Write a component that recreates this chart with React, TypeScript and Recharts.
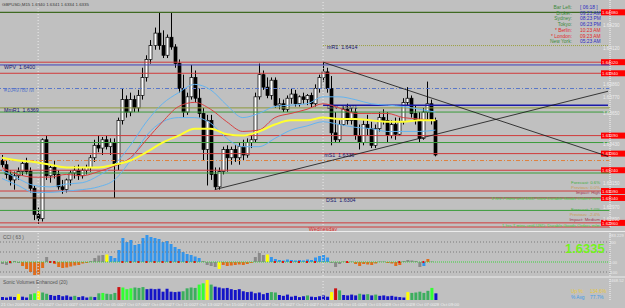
import React from "react";
import { ComposedChart, Bar, Line, XAxis, YAxis, ReferenceLine, Cell } from "recharts";

const W = 625;
const H = 308;
const BG = "#c0c0c0";
const FONT = "'Liberation Sans', Arial, sans-serif";

// one slot per bar, the right part of the chart is empty future space
const SLOT_COUNT = 152;
const MA_STEP = 4;

// [open, high, low, close]
const candles: [number, number, number, number][] = [
  [1.6331, 1.6335, 1.6326, 1.6328],
  [1.6328, 1.6331, 1.6318, 1.6321],
  [1.6321, 1.6324, 1.6313, 1.6317],
  [1.6317, 1.6323, 1.631, 1.632],
  [1.632, 1.6326, 1.6317, 1.6323],
  [1.6323, 1.6331, 1.632, 1.6329],
  [1.6329, 1.6333, 1.6321, 1.6323],
  [1.6323, 1.6326, 1.6308, 1.6311],
  [1.6311, 1.6313, 1.6288, 1.6292],
  [1.6292, 1.6297, 1.6285, 1.6289],
  [1.6289, 1.6347, 1.6287, 1.6346],
  [1.6346, 1.6349, 1.6317, 1.632],
  [1.632, 1.6328, 1.6315, 1.6326],
  [1.6326, 1.6331, 1.6318, 1.6321],
  [1.6321, 1.6324, 1.631, 1.6312],
  [1.6312, 1.6317, 1.6307, 1.631],
  [1.631, 1.6318, 1.6308, 1.6317],
  [1.6317, 1.6324, 1.6313, 1.6322],
  [1.6322, 1.6327, 1.6318, 1.6324],
  [1.6324, 1.6328, 1.6317, 1.632],
  [1.632, 1.6326, 1.6318, 1.6324],
  [1.6324, 1.6328, 1.6321, 1.6326],
  [1.6326, 1.6335, 1.6323, 1.6333],
  [1.6333, 1.6346, 1.633, 1.6342],
  [1.6342, 1.6349, 1.6337, 1.634],
  [1.634, 1.6348, 1.6335, 1.6346],
  [1.6346, 1.6349, 1.6339, 1.6341],
  [1.6341, 1.6347, 1.6335, 1.6344],
  [1.6344, 1.6347, 1.6304, 1.6328],
  [1.6328, 1.6362, 1.6324, 1.636],
  [1.636, 1.6383, 1.6357, 1.6375],
  [1.6375, 1.6378, 1.6362, 1.6366],
  [1.6366, 1.638, 1.6363, 1.6375],
  [1.6375, 1.6378, 1.6366, 1.6369],
  [1.6369, 1.6382, 1.6366, 1.6378],
  [1.6378, 1.6398, 1.6375, 1.6391],
  [1.6391, 1.6407, 1.6388, 1.6404],
  [1.6404, 1.6418, 1.6401, 1.6414],
  [1.6414, 1.6427, 1.6411, 1.6423],
  [1.6423, 1.6438, 1.6411, 1.6414],
  [1.6414, 1.6425, 1.6405, 1.6407],
  [1.6407, 1.6422, 1.6405, 1.642],
  [1.642, 1.6438, 1.6411, 1.6413],
  [1.6413, 1.6415, 1.6398, 1.6401],
  [1.6401, 1.6404, 1.638, 1.6383],
  [1.6383, 1.6393, 1.6362, 1.6366],
  [1.6366, 1.638, 1.6364, 1.6377],
  [1.6377, 1.64, 1.6375, 1.6391],
  [1.6391, 1.6396, 1.6373, 1.6376],
  [1.6376, 1.6383, 1.6362, 1.6365],
  [1.6365, 1.6369, 1.6331, 1.6339],
  [1.6339, 1.6364, 1.6313, 1.636],
  [1.636, 1.6364, 1.6317, 1.6321],
  [1.6321, 1.6326, 1.631, 1.6312],
  [1.6312, 1.6326, 1.631, 1.6323],
  [1.6323, 1.6341, 1.6321, 1.6339],
  [1.6339, 1.6342, 1.6323, 1.6333],
  [1.6333, 1.6341, 1.6328, 1.6339],
  [1.6339, 1.6342, 1.633, 1.6333],
  [1.6333, 1.6344, 1.6328, 1.6341],
  [1.6341, 1.6346, 1.6331, 1.6335],
  [1.6335, 1.6347, 1.6333, 1.6344],
  [1.6344, 1.6349, 1.634, 1.6346],
  [1.6346, 1.638, 1.6344, 1.6377],
  [1.6377, 1.6401, 1.6375, 1.6393],
  [1.6393, 1.6396, 1.6382, 1.6384],
  [1.6384, 1.6391, 1.6376, 1.6378],
  [1.6378, 1.6391, 1.6375, 1.6389],
  [1.6389, 1.6391, 1.6369, 1.6371],
  [1.6371, 1.6376, 1.6368, 1.6372],
  [1.6372, 1.6375, 1.6366, 1.6368],
  [1.6368, 1.6378, 1.6366, 1.6376],
  [1.6376, 1.6383, 1.6372, 1.6379],
  [1.6379, 1.6382, 1.637, 1.6372],
  [1.6372, 1.6378, 1.637, 1.6377],
  [1.6377, 1.638, 1.6372, 1.6375],
  [1.6375, 1.6379, 1.6371, 1.6378],
  [1.6378, 1.638, 1.6369, 1.6372],
  [1.6372, 1.6386, 1.637, 1.6383],
  [1.6383, 1.6393, 1.638, 1.6391],
  [1.6391, 1.6402, 1.6388, 1.6395],
  [1.6395, 1.6398, 1.638, 1.6383],
  [1.6383, 1.6392, 1.6342, 1.6351],
  [1.6351, 1.6366, 1.6344, 1.6346],
  [1.6346, 1.636, 1.6344, 1.6357],
  [1.6357, 1.637, 1.6356, 1.6368],
  [1.6368, 1.6372, 1.6357, 1.636],
  [1.636, 1.6369, 1.6357, 1.6366],
  [1.6366, 1.6369, 1.6346, 1.6349],
  [1.6349, 1.6357, 1.6339, 1.6344],
  [1.6344, 1.636, 1.6342, 1.6357],
  [1.6357, 1.6364, 1.6349, 1.6354],
  [1.6354, 1.6359, 1.634, 1.6342],
  [1.6342, 1.6357, 1.634, 1.6354],
  [1.6354, 1.6366, 1.6352, 1.6362],
  [1.6362, 1.6368, 1.6357, 1.636],
  [1.636, 1.6366, 1.6344, 1.6349],
  [1.6349, 1.636, 1.6347, 1.6357],
  [1.6357, 1.6362, 1.6346, 1.635],
  [1.635, 1.6362, 1.6349, 1.6359],
  [1.6359, 1.6376, 1.6357, 1.6373],
  [1.6373, 1.6384, 1.6371, 1.6376],
  [1.6376, 1.6378, 1.6362, 1.6365],
  [1.6365, 1.6371, 1.6357, 1.636],
  [1.636, 1.6366, 1.6344, 1.6347],
  [1.6347, 1.6369, 1.6346, 1.6366],
  [1.6366, 1.6388, 1.636, 1.6372],
  [1.6372, 1.6375, 1.6357, 1.636],
  [1.636, 1.6362, 1.6334, 1.6335],
];

// moving averages, one value every MA_STEP bars
const maYellow = [1.6333, 1.6331, 1.633, 1.6328, 1.6326, 1.6326, 1.6326, 1.6328, 1.6331, 1.6337, 1.6344, 1.6349, 1.6354, 1.6354, 1.635, 1.6349, 1.6352, 1.6357, 1.636, 1.636, 1.6362, 1.6361, 1.6361, 1.636, 1.6359, 1.6359, 1.636, 1.636];
const maRed = [1.6326, 1.6321, 1.6319, 1.6319, 1.6321, 1.632, 1.6323, 1.6327, 1.6333, 1.6346, 1.6359, 1.637, 1.6373, 1.6368, 1.6359, 1.6352, 1.6353, 1.6362, 1.6365, 1.6368, 1.6372, 1.6369, 1.6365, 1.6365, 1.6365, 1.6362, 1.6361, 1.636];
const maBlueA = [1.6324, 1.6318, 1.6313, 1.6312, 1.6314, 1.6315, 1.632, 1.6328, 1.6342, 1.6359, 1.6372, 1.638, 1.6386, 1.6382, 1.6371, 1.6362, 1.6365, 1.637, 1.6371, 1.6372, 1.6377, 1.6377, 1.6375, 1.6372, 1.6371, 1.637, 1.6368, 1.6366];
const maBlueB = [1.6318, 1.6313, 1.6308, 1.6308, 1.6309, 1.631, 1.6312, 1.6317, 1.6331, 1.6349, 1.6359, 1.6362, 1.6362, 1.6358, 1.6347, 1.6341, 1.6341, 1.6347, 1.6353, 1.6356, 1.6359, 1.6357, 1.6355, 1.6354, 1.6352, 1.6352, 1.6352, 1.6353];

const PRICE_MIN = 1.62823;
const PRICE_MAX = 1.64469;
const priceTicks = [1.6429, 1.6412, 1.6386, 1.6377, 1.6365, 1.6343, 1.6315, 1.6297, 1.6289];

const redLevels = [1.6402, 1.6394, 1.6349, 1.6336, 1.6324, 1.6309, 1.6286, 1.6283];
const greenLevels = [1.6366, 1.6344, 1.6322, 1.6295];
const topLevel = 1.6438;
const WPV = 1.64;
const MmR1 = 1.6369;
const mR1 = 1.6414;
const DPV = 1.6371;
const mS1 = 1.6336;
const DS1 = 1.6304;
const blueDashLevel = 1.6383;
const orangeDashLevel = 1.6331;

const daySeparators = [9, 80];
const trendUp = [{ x: 53, y: 1.631 }, { x: 151, y: 1.6381 }];
const trendDown = [{ x: 80, y: 1.6402 }, { x: 151, y: 1.6334 }];

const cci = [-20, -30, -15, 10, -10, -40, -70, -100, -130, -125, -60, 50, 5, -20, -50, -60, -55, -45, -35, -30, -15, -10, 10, 40, 65, 70, 75, 60, 40, 120, 240, 200, 220, 170, 180, 240, 270, 250, 240, 230, 200, 210, 180, 150, 130, 100, 80, 70, 55, 40, 10, -30, -40, -50, -70, -30, -40, -35, -30, -25, -30, -20, -10, 50, 90, 70, 75, 50, 30, 20, 15, 25, 20, 15, 20, 15, 25, 20, 45, 60, 70, 45, -10, -50, -20, 5, -10, 5, -20, -40, -20, -25, -30, -15, 5, 5, -10, -15, -40, -30, 10, 20, 15, 10, -50, -40, 30, 5, -110];
// trend state of each CCI bar: b up, o down, g neutral, y turning
const cciState = "gggggooooooggoooooooooggggybbbbbbbbbbbbbbbbbbbbbbbggggyoooooooogggybbbbbbbbbbbbbbbggggogooooooggoooogggggbog";
const cciSignals = [2, 12, 13, 30, 32, 34, 36, 38, 40, 42, 44, 46, 48, 68, 70, 72, 74, 76, 78, 86, 99, 105];

const volume = [360, 300, 400, 350, 720, 400, 300, 700, 800, 1050, 900, 750, 600, 500, 600, 450, 550, 400, 500, 350, 450, 300, 400, 350, 800, 850, 750, 700, 850, 1550, 1500, 1300, 1400, 1500, 1450, 1550, 1300, 1350, 1300, 1350, 1000, 1350, 1000, 950, 1000, 1050, 1400, 1500, 1450, 1850, 2000, 2400, 1850, 1600, 1500, 1400, 1450, 1300, 1200, 1300, 1050, 950, 1000, 800, 900, 700, 850, 950, 900, 600, 500, 650, 400, 500, 350, 450, 550, 400, 350, 450, 550, 400, 950, 1400, 1150, 600, 550, 650, 550, 750, 650, 700, 550, 650, 500, 550, 450, 500, 400, 350, 300, 950, 850, 900, 1000, 850, 1100, 1450, 800];
// b blue, g green, l lime, y yellow, r red
const volumeState = "bbbbybbglyggbbbbbbgbbbgbglgggrlllgggbbbbbbbbbgggglly" + "g" + "bbbbbbbbbbbbbb" + "gg" + "bbbbbbb" + "g" + "bbbbb" + "yrg" + "bbbb" + "gbgbg" + "bbbbbbb" + "y" + "ggggg" + "lb";

const timeTickSlots = [0, 6, 12, 18, 24, 30, 36, 42, 48, 54, 60, 66, 72, 78, 84, 90, 96, 102, 108];
const timeLabels = ["21 Oct 2009", "26 Oct 23:00", "27 Oct 01:00", "27 Oct 03:00", "27 Oct 05:00", "27 Oct 07:00", "27 Oct 09:00", "27 Oct 11:00", "27 Oct 13:00", "27 Oct 15:00", "27 Oct 17:00", "27 Oct 19:00", "27 Oct 21:00", "27 Oct 23:00", "28 Oct 01:00", "28 Oct 03:00", "28 Oct 05:00", "28 Oct 07:00", "28 Oct 09:00"];

const cciTicks = [270, 200, 0, -100];
const cciTickLabels: Record<string, string> = { 270: "283.229", 200: "200", 0: "0.00", "-100": "-100" };

const clockLabels = ["Bar Left:", "Broker:", "Sydney:", "Tokyo:", "* Berlin:", "* London:", "New York:"];
const clockTimes = ["[ 06:18 ]", "09:23 AM", "08:23 PM", "06:23 PM", "10:23 AM", "09:23 AM", "05:23 AM"];
const newsHigh = ["Forecast: 0.6%", "Previous: 0.0%", "Impact: High", "1 hrs 7 mins until USD: Core Durable Goods Orders m/m"];
const newsMedium = ["Forecast: 1.0%", "Previous: -2.4%", "Impact: Medium", "1 hrs 7 mins until USD: Durable Goods Orders m/m"];

const cciColors: Record<string, string> = { b: "#3395ec", o: "#e06c1c", g: "#8a8a8a", y: "#ffff00" };
const volColors: Record<string, string> = { b: "#1414c8", g: "#3cae5e", l: "#33ff33", y: "#ffff00", r: "#cc1111" };
const newsColors = ["#3cae3c", "#c89a50", "#a03850", "#44d044"];

const rows = Array.from({ length: SLOT_COUNT }, (_, i) => {
  const k = candles[i];
  const m = i % MA_STEP === 0 ? i / MA_STEP : -1;
  const ma = (arr: number[]) => (m >= 0 && m < arr.length ? arr[m] : null);
  return {
    slot: i,
    range: k ? [k[2], k[1]] : null,
    o: k ? k[0] : null,
    h: k ? k[1] : null,
    l: k ? k[2] : null,
    c: k ? k[3] : null,
    yellow: ma(maYellow),
    red: ma(maRed),
    blueA: ma(maBlueA),
    blueB: ma(maBlueB),
    cci: i < cci.length ? cci[i] : null,
    cciSt: cciState[i],
    sig: cciSignals.includes(i) ? 0 : null,
    vol: i < volume.length ? volume[i] : null,
    volSt: volumeState[i],
  };
});

function Candle(props: any) {
  const { x, y, width, height, payload } = props;
  if (!payload || payload.h == null || y == null) return null;
  const { o, h, l, c } = payload;
  const top = Math.min(y, y + height);
  const hh = Math.abs(height);
  const k = hh / (h - l);
  const cx = Math.round(x + width / 2) + 0.5;
  const bTop = top + (h - Math.max(o, c)) * k;
  const bBot = top + (h - Math.min(o, c)) * k;
  const up = c >= o;
  return (
    <g>
      <line x1={cx} x2={cx} y1={top} y2={top + hh} stroke="#000" strokeWidth={1} />
      <rect x={cx - 1.5} y={bTop} width={3} height={Math.max(bBot - bTop, 1)} fill={up ? "#fff" : "#000"} stroke="#000" strokeWidth={0.7} />
    </g>
  );
}

function Tag(props: any) {
  const { viewBox, text, frac = 0, color = "#15156e", box, price } = props;
  if (!viewBox) return null;
  const { x, y, width } = viewBox;
  return (
    <g>
      {text ? (
        <text x={x + frac * width + 4} y={y + 3.8} fontSize={5.3} fill={color} fontFamily={FONT}>
          {text}
        </text>
      ) : null}
      {box ? (
        <g>
          <rect x={x + width - 9} y={y - 3} width={24} height={6} fill="#ff0000" />
          <text x={x + width - 8} y={y + 1.8} fontSize={4.4} fill="#ffe4e4" fontFamily={FONT}>
            {price.toFixed(5)}
          </text>
        </g>
      ) : null}
    </g>
  );
}

function DayTag(props: any) {
  const { viewBox, text } = props;
  if (!viewBox || !text) return null;
  return (
    <text x={viewBox.x} y={viewBox.y + viewBox.height + 2.6} fontSize={5.4} fill="#e02424" textAnchor="middle" fontFamily={FONT}>
      {text}
    </text>
  );
}

function PriceTick(props: any) {
  const { x, y, payload } = props;
  return (
    <text x={x - 7} y={y + 1.8} fontSize={4.6} fill="#ececec" fontFamily={FONT}>
      {Number(payload.value).toFixed(5)}
    </text>
  );
}

function SideTick(props: any) {
  const { x, y, payload, labels } = props;
  return (
    <text x={x - 1} y={y + 1.8} fontSize={4.1} fill="#ececec" fontFamily={FONT}>
      {labels[payload.value] ?? String(payload.value)}
    </text>
  );
}

function TimeTick(props: any) {
  const { x, y, payload } = props;
  const idx = timeTickSlots.indexOf(payload.value);
  return (
    <text x={x - 1} y={y + 6} fontSize={4.3} fill="#f0f0f0" fontFamily={FONT}>
      {timeLabels[idx]}
    </text>
  );
}

function SignalMark(props: any) {
  const { cx, cy, payload } = props;
  if (!payload || payload.sig == null || cy == null) return null;
  return <rect x={cx - 1} y={cy - 1} width={2} height={2} fill="#e01010" />;
}

const sep = (withLabel: boolean) =>
  daySeparators.map((s, i) => (
    <ReferenceLine
      key={"d" + s}
      x={s}
      stroke="#ececec"
      strokeDasharray="1 2"
      label={withLabel && i === 1 ? <DayTag text="Wednesday" /> : undefined}
    />
  ));

const lineProps = { dot: false, activeDot: false, connectNulls: true, isAnimationActive: false, type: "monotone" as const };

export default function App() {
  return (
    <div style={{ position: "absolute", left: 0, top: 0, width: W, height: H, background: BG, overflow: "hidden" }}>
      <div style={{ position: "absolute", left: 0, top: 0 }}>
        <ComposedChart width={W} height={236} data={rows} margin={{ top: 0, right: 0, bottom: 8, left: 0 }} barCategoryGap={0}>
          <XAxis dataKey="slot" hide />
          <YAxis
            orientation="right"
            width={15}
            domain={[PRICE_MIN, PRICE_MAX]}
            allowDataOverflow
            ticks={priceTicks}
            interval={0}
            tick={<PriceTick />}
            tickLine={false}
            tickSize={0}
            tickMargin={0}
            axisLine={{ stroke: "#f4f4f4", strokeDasharray: "1 1" }}
          />
          {sep(true)}
          <ReferenceLine y={topLevel} stroke="#3f6a22" strokeWidth={1.4} label={<Tag box price={topLevel} />} />
          {redLevels.map((p, i) => (
            <ReferenceLine key={"r" + p} y={p} stroke="#d03a3a" strokeWidth={1} label={i < 7 ? <Tag box price={p} /> : undefined} />
          ))}
          {greenLevels.map((p) => (
            <ReferenceLine key={"g" + p} y={p} stroke="#3a9c3a" strokeWidth={1} />
          ))}
          <ReferenceLine y={blueDashLevel} stroke="#5a78c8" strokeDasharray="4 2 1 2" label={<Tag text="#1049780 lvl" color="#5a78c8" />} />
          <ReferenceLine y={orangeDashLevel} stroke="#e0803c" strokeDasharray="4 2 1 2" />
          <ReferenceLine y={WPV} stroke="#4040b8" strokeWidth={1} label={<Tag text={"WPV\u00a0\u00a0" + WPV.toFixed(4)} />} />
          <ReferenceLine y={MmR1} stroke="#8c9a3c" strokeWidth={1} label={<Tag text={"MmR1\u00a0\u00a0" + MmR1.toFixed(4)} />} />
          <ReferenceLine y={mS1} stroke="none" label={<Tag text={"mS1\u00a0\u00a0" + mS1.toFixed(4)} frac={0.525} />} />
          <ReferenceLine y={DS1} stroke="#7a3a1a" strokeWidth={1} label={<Tag text={"DS1\u00a0\u00a0" + DS1.toFixed(4)} frac={0.528} box price={DS1} />} />
          <ReferenceLine
            segment={[{ x: 80, y: mR1 }, { x: SLOT_COUNT - 1, y: mR1 }]}
            stroke="#9aa03c"
            strokeDasharray="1 1"
            label={<Tag text={"mR1\u00a0\u00a0" + mR1.toFixed(4)} />}
          />
          <ReferenceLine
            segment={[{ x: 80, y: DPV }, { x: SLOT_COUNT - 1, y: DPV }]}
            stroke="#1a1aa8"
            strokeWidth={1.5}
            label={<Tag text={"DPV\u00a0\u00a0" + DPV.toFixed(4)} />}
          />
          <Bar dataKey="range" shape={<Candle />} isAnimationActive={false} />
          <Line dataKey="blueB" stroke="#64b4f0" strokeWidth={1} {...lineProps} />
          <Line dataKey="blueA" stroke="#64b4f0" strokeWidth={1} {...lineProps} />
          <Line dataKey="red" stroke="#d84040" strokeWidth={1} {...lineProps} />
          <Line dataKey="yellow" stroke="#ffff30" strokeWidth={2} {...lineProps} />
          <ReferenceLine segment={trendUp} stroke="#111" strokeWidth={0.8} />
          <ReferenceLine segment={trendDown} stroke="#111" strokeWidth={0.8} />
        </ComposedChart>
      </div>

      <div style={{ position: "absolute", left: 0, top: 233 }}>
        <ComposedChart width={W} height={43} data={rows} margin={{ top: 0, right: 0, bottom: 0, left: 0 }} barCategoryGap={0}>
          <XAxis dataKey="slot" hide />
          <YAxis
            orientation="right"
            width={15}
            domain={[-140, 290]}
            allowDataOverflow
            ticks={cciTicks}
            interval={0}
            tick={<SideTick labels={cciTickLabels} />}
            tickLine={false}
            tickSize={0}
            tickMargin={0}
            axisLine={{ stroke: "#f4f4f4", strokeDasharray: "1 1" }}
          />
          {sep(false)}
          <ReferenceLine y={200} stroke="#7a7a7a" strokeDasharray="1 2" />
          <ReferenceLine y={100} stroke="#7a7a7a" strokeDasharray="1 2" />
          <ReferenceLine y={-100} stroke="#7a7a7a" strokeDasharray="1 2" />
          <Bar dataKey="cci" barSize={3} isAnimationActive={false}>
            {rows.map((r) => (
              <Cell key={r.slot} fill={cciColors[r.cciSt] ?? "none"} />
            ))}
          </Bar>
          <ReferenceLine y={0} stroke="#3cd23c" strokeDasharray="1 1" />
          <Line dataKey="sig" stroke="none" dot={<SignalMark />} activeDot={false} isAnimationActive={false} />
        </ComposedChart>
      </div>

      <div style={{ position: "absolute", left: 0, top: 279 }}>
        <ComposedChart width={W} height={29} data={rows} margin={{ top: 0, right: 0, bottom: 0, left: 0 }} barCategoryGap={0}>
          <XAxis dataKey="slot" height={8} ticks={timeTickSlots} interval={0} tick={<TimeTick />} tickLine={false} tickSize={0} tickMargin={0} axisLine={false} />
          <YAxis
            orientation="right"
            width={15}
            domain={[0, 2520]}
            allowDataOverflow
            ticks={[2350]}
            interval={0}
            tick={<SideTick labels={{ 2350: "2468.52" }} />}
            tickLine={false}
            tickSize={0}
            tickMargin={0}
            axisLine={{ stroke: "#f4f4f4", strokeDasharray: "1 1" }}
          />
          {sep(false)}
          <Bar dataKey="vol" barSize={3} isAnimationActive={false}>
            {rows.map((r) => (
              <Cell key={r.slot} fill={volColors[r.volSt] ?? "none"} />
            ))}
          </Bar>
        </ComposedChart>
      </div>

      <svg width={W} height={H} style={{ position: "absolute", left: 0, top: 0, pointerEvents: "none" }} fontFamily={FONT}>
        <line x1={0} x2={W} y1={231.5} y2={231.5} stroke="#ececec" strokeWidth={1.2} />
        <line x1={0} x2={W} y1={277} y2={277} stroke="#ececec" strokeWidth={1.2} />
        <text x={2} y={6} fontSize={4.4} fill="#3a3a3a">GBPUSD,M15  1.6340 1.6341 1.6334 1.6335</text>
        {clockLabels.map((t, i) => (
          <text key={t} x={572} y={9 + i * 5.7} fontSize={4.9} textAnchor="end" fill={t.startsWith("*") ? "#e02828" : "#3c8a3c"}>
            {t}
          </text>
        ))}
        {clockTimes.map((t, i) => (
          <text key={t + i} x={580} y={9 + i * 5.7} fontSize={4.9} fill={i === 4 || i === 5 ? "#e02828" : "#2c2cc0"}>
            {t}
          </text>
        ))}
        {newsHigh.map((t, i) => (
          <text key={t} x={600} y={184 + i * 5.2} fontSize={4.3} textAnchor="end" fill={newsColors[i]}>
            {t}
          </text>
        ))}
        {newsMedium.map((t, i) => (
          <text key={t} x={600} y={211 + i * 5.2} fontSize={4.3} textAnchor="end" fill={newsColors[i]}>
            {t}
          </text>
        ))}
        <text x={3} y={239} fontSize={4.8} fill="#555">CCI  ( 63 )</text>
        <text x={3} y={284} fontSize={4.8} fill="#555">Sonic Volumes Enhanced (20)</text>
        <text x={565} y={253} fontSize={13} fontWeight="bold" fill="#74f21c">1.6335</text>
        <text x={571} y={293} fontSize={4.8} fill="#e8c830">Up %:</text>
        <text x={590} y={293} fontSize={4.8} fill="#e8c830">134.6%</text>
        <text x={571} y={299} fontSize={4.8} fill="#3a9ae8">% Avg</text>
        <text x={590} y={299} fontSize={4.8} fill="#3a9ae8">77.7%</text>
      </svg>
    </div>
  );
}
